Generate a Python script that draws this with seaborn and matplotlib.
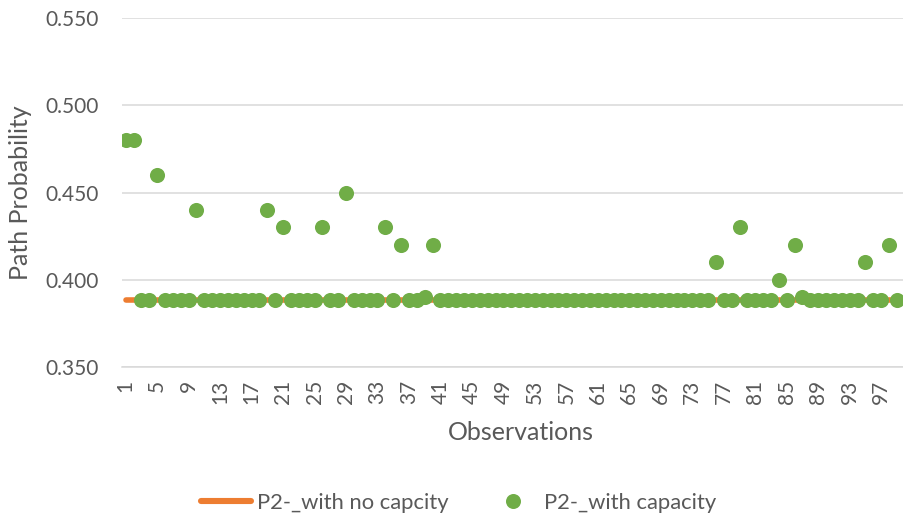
import matplotlib
matplotlib.use("Agg")
import matplotlib.pyplot as plt
import seaborn as sns
import pandas as pd
from matplotlib.lines import Line2D

# ---- data ----
observations = list(range(1, 100))

with_no_capacity = [
    0.3886, 0.3886, 0.3886, 0.3886, 0.3886, 0.3886, 0.3886, 0.3886, 0.3886, 0.3886,
    0.3886, 0.3886, 0.3886, 0.3886, 0.3886, 0.3886, 0.3886, 0.3886, 0.3886, 0.3886,
    0.3886, 0.3886, 0.3886, 0.3886, 0.3886, 0.3886, 0.3886, 0.3886, 0.3886, 0.3886,
    0.3886, 0.3886, 0.3886, 0.3886, 0.3886, 0.3886, 0.3886, 0.3886, 0.3886, 0.3886,
    0.3886, 0.3886, 0.3886, 0.3886, 0.3886, 0.3886, 0.3886, 0.3886, 0.3886, 0.3886,
    0.3886, 0.3886, 0.3886, 0.3886, 0.3886, 0.3886, 0.3886, 0.3886, 0.3886, 0.3886,
    0.3886, 0.3886, 0.3886, 0.3886, 0.3886, 0.3886, 0.3886, 0.3886, 0.3886, 0.3886,
    0.3886, 0.3886, 0.3886, 0.3886, 0.3886, 0.3886, 0.3886, 0.3886, 0.3886, 0.3886,
    0.3886, 0.3886, 0.3886, 0.3886, 0.3886, 0.3886, 0.3886, 0.3886, 0.3886, 0.3886,
    0.3886, 0.3886, 0.3886, 0.3886, 0.3886, 0.3886, 0.3886, 0.3886, 0.3886,
]

with_capacity = [
    0.480, 0.480, 0.3886, 0.3886, 0.460, 0.3886, 0.3886, 0.3886, 0.3886, 0.440,    # 1-10
    0.3886, 0.3886, 0.3886, 0.3886, 0.3886, 0.3886, 0.3886, 0.3886, 0.440, 0.3886, # 11-20
    0.430, 0.3886, 0.3886, 0.3886, 0.3886, 0.430, 0.3886, 0.3886, 0.450, 0.3886,   # 21-30
    0.3886, 0.3886, 0.3886, 0.430, 0.3886, 0.420, 0.3886, 0.3886, 0.390, 0.420,    # 31-40
    0.3886, 0.3886, 0.3886, 0.3886, 0.3886, 0.3886, 0.3886, 0.3886, 0.3886, 0.3886, # 41-50
    0.3886, 0.3886, 0.3886, 0.3886, 0.3886, 0.3886, 0.3886, 0.3886, 0.3886, 0.3886, # 51-60
    0.3886, 0.3886, 0.3886, 0.3886, 0.3886, 0.3886, 0.3886, 0.3886, 0.3886, 0.3886, # 61-70
    0.3886, 0.3886, 0.3886, 0.3886, 0.3886, 0.410, 0.3886, 0.3886, 0.430, 0.3886,  # 71-80
    0.3886, 0.3886, 0.3886, 0.400, 0.3886, 0.420, 0.390, 0.3886, 0.3886, 0.3886,   # 81-90
    0.3886, 0.3886, 0.3886, 0.3886, 0.410, 0.3886, 0.3886, 0.420, 0.3886,          # 91-99
]

tick_labels = ["1", "5", "9", "13", "17", "21", "25", "29", "33", "37", "41", "45", "49",
               "53", "57", "61", "65", "69", "73", "77", "81", "85", "89", "93", "97"]
y_ticks = [0.350, 0.400, 0.450, 0.500, 0.550]

series_names = ["P2-_with no capcity", "P2-_with capacity"]

# ---- style ----
sns.set_style("white")
plt.rcParams["font.family"] = ["Lato", "DejaVu Sans"]
TXT = "#595959"
ORANGE = "#ED7D31"
GREEN = "#70AD47"
GRID = "#D9D9D9"
FS = 15
FS_TITLE = 18
FS_LEG = 15.8

df = pd.DataFrame({"obs": observations,
                   "no_cap": with_no_capacity,
                   "cap": with_capacity})

W, H = 904, 519
fig = plt.figure(figsize=(W / 100, H / 100), dpi=100)
ax = fig.add_axes([121.7 / W, 1 - 367 / H, (904 - 121.7) / W, (367 - 18) / H])

sns.lineplot(data=df, x="obs", y="no_cap", ax=ax, color=ORANGE, lw=4.0,
             solid_capstyle="round", zorder=2, legend=False)
sns.scatterplot(data=df, x="obs", y="cap", ax=ax, color=GREEN, s=118,
                linewidth=0, zorder=3, legend=False)

ax.set_xlim(0.5, 99.9)
ax.set_ylim(0.350, 0.550)
ax.set_yticks(y_ticks)
ax.set_yticklabels([f"{v:.3f}" for v in y_ticks])
ax.set_xticks([int(t) for t in tick_labels])
ax.set_xticklabels(tick_labels, rotation=90)

ax.grid(axis="y", color=GRID, lw=1.1, zorder=0)
ax.grid(axis="x", visible=False)
for s in ["top", "right", "left"]:
    ax.spines[s].set_visible(False)
ax.spines["bottom"].set_color(GRID)
ax.spines["bottom"].set_linewidth(1.1)
ax.tick_params(axis="both", length=0, labelsize=FS, labelcolor=TXT)
ax.tick_params(axis="y", pad=16.5)
ax.tick_params(axis="x", pad=9.5)
ax.set_xlabel("")
ax.set_ylabel("")

fig.text(21 / W, 1 - 192.5 / H, "Path Probability", rotation=90, ha="center",
         va="center", fontsize=FS_TITLE, color=TXT)
fig.text(520.5 / W, 1 - 433 / H, "Observations", ha="center", va="center",
         fontsize=FS_TITLE, color=TXT)

handles = [Line2D([], [], color=ORANGE, lw=4.4, solid_capstyle="round"),
           Line2D([], [], color=GREEN, marker="o", ls="none", markersize=10.8,
                  markeredgewidth=0)]
leg = fig.legend(handles, series_names, loc="center", ncol=2,
                 bbox_to_anchor=(458.5 / W, 1 - 503 / H), frameon=False,
                 fontsize=FS_LEG, handlelength=2.3, handletextpad=0.25,
                 columnspacing=1.8)
for t in leg.get_texts():
    t.set_color(TXT)

fig.savefig("out.png", dpi=100)
